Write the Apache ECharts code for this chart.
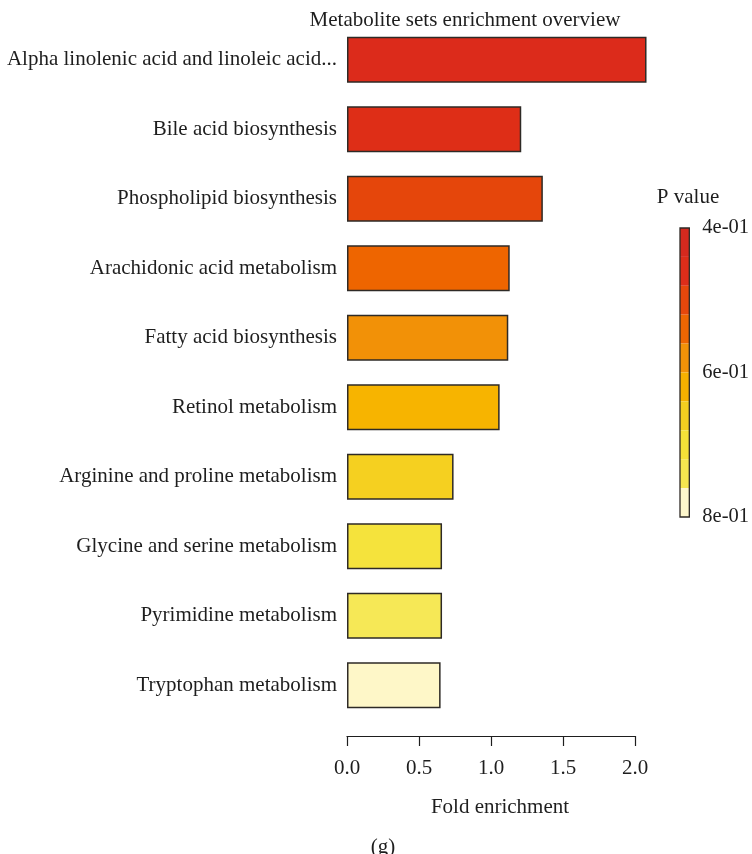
<!DOCTYPE html>
<html>
<head>
<meta charset="utf-8">
<script src="https://cdn.jsdelivr.net/npm/echarts@6/dist/echarts.min.js"></script>
<style>
  html, body { margin: 0; padding: 0; background: #fff; }
  #chart { width: 752px; height: 854px; }
</style>
</head>
<body>
<div id="chart"></div>
<script>
// Metabolite sets, top to bottom
const pathways = [
  'Alpha linolenic acid and linoleic acid...',
  'Bile acid biosynthesis',
  'Phospholipid biosynthesis',
  'Arachidonic acid metabolism',
  'Fatty acid biosynthesis',
  'Retinol metabolism',
  'Arginine and proline metabolism',
  'Glycine and serine metabolism',
  'Pyrimidine metabolism',
  'Tryptophan metabolism'
];
// Fold enrichment per set
const foldEnrichment = [2.08, 1.21, 1.36, 1.13, 1.12, 1.06, 0.74, 0.66, 0.66, 0.65];
// Fill per set, from lowest to highest P value
const barColors = [
  '#dc2b1b', '#de2e17', '#e5460b', '#ee6500', '#f29107',
  '#f7b400', '#f5d020', '#f5e33c', '#f6e856', '#fef7c8'
];
// Fold-enrichment axis ticks
const foldTicks = ['0.0', '0.5', '1.0', '1.5', '2.0'];

// P value colour scale: block edges and their fills
const pBreaks = [0.40, 0.44, 0.48, 0.52, 0.56, 0.60, 0.64, 0.68, 0.72, 0.76, 0.80];
const scaleColors = [
  '#d6291e', '#dd2d1a', '#e6470c', '#ee6602', '#f29208',
  '#f6b100', '#f4cf20', '#f4e238', '#f5e64f', '#fef7cc'
];
const scaleTickLabels = ['4e-01', '6e-01', '8e-01'];

const FONT = '"Liberation Serif", "DejaVu Serif", serif';
const INK = '#1e1e1e';
const FS = 21;

const scaleBlocks = scaleColors.map((c, i) => ({
  value: [pBreaks[i], pBreaks[i + 1]],
  itemStyle: { color: c }
}));

const chart = echarts.init(document.getElementById('chart'), null, { renderer: 'canvas' });

chart.setOption({
  backgroundColor: '#ffffff',
  animation: false,
  title: [
    {
      text: 'Metabolite sets enrichment overview',
      left: 465, top: 10, padding: 0, textAlign: 'center',
      textStyle: { fontFamily: FONT, fontSize: FS, fontWeight: 'normal', color: INK }
    },
    {
      text: 'P value',
      left: 688, top: 187, padding: 0, textAlign: 'center',
      textStyle: { fontFamily: FONT, fontSize: FS, fontWeight: 'normal', color: INK }
    },
    {
      text: '(g)',
      left: 383, top: 837, padding: 0, textAlign: 'center',
      textStyle: { fontFamily: FONT, fontSize: FS, fontWeight: 'normal', color: INK }
    }
  ],
  grid: [
    { left: 347, right: 117, top: 25, bottom: 134 },
    { left: 680, width: 17, top: 228, height: 289, show: true, z: 10,
      borderColor: '#2e2a26', borderWidth: 1.3, backgroundColor: 'transparent' }
  ],
  xAxis: [
    {
      gridIndex: 0,
      type: 'value',
      min: 0, max: 2, interval: 0.5,
      offset: 16,
      splitLine: { show: false },
      axisLine: { show: true, lineStyle: { color: INK, width: 1.2 } },
      axisTick: { show: true, length: 10, inside: false, lineStyle: { color: INK, width: 1.2 } },
      axisLabel: {
        margin: 22,
        fontFamily: FONT, fontSize: FS, color: INK,
        formatter: (v, i) => foldTicks[i]
      },
      name: 'Fold enrichment',
      nameLocation: 'middle',
      nameGap: 61,
      nameTextStyle: { fontFamily: FONT, fontSize: FS, color: INK, padding: [0, 0, 0, 18] }
    },
    {
      gridIndex: 1,
      type: 'value',
      min: 0, max: 1,
      show: false
    }
  ],
  yAxis: [
    {
      gridIndex: 0,
      type: 'category',
      data: pathways,
      inverse: true,
      axisLine: { show: false },
      axisTick: { show: false },
      splitLine: { show: false },
      axisLabel: { margin: 10, fontFamily: FONT, fontSize: FS, color: INK }
    },
    {
      gridIndex: 1,
      type: 'value',
      min: 0.4, max: 0.8, interval: 0.2,
      inverse: true,
      position: 'right',
      axisLine: { show: false },
      axisTick: { show: false },
      splitLine: { show: false },
      axisLabel: {
        margin: 13,
        fontFamily: FONT, fontSize: 20.5, color: INK,
        formatter: (v, i) => scaleTickLabels[i]
      }
    }
  ],
  series: [
    {
      type: 'bar',
      xAxisIndex: 0, yAxisIndex: 0,
      clip: false,
      barWidth: 46,
      data: foldEnrichment.map((v, i) => ({
        value: v,
        itemStyle: { color: barColors[i] }
      })),
      itemStyle: { borderColor: '#2e2a26', borderWidth: 1.5 }
    },
    {
      type: 'custom',
      xAxisIndex: 1, yAxisIndex: 1,
      clip: true,
      data: scaleBlocks,
      renderItem: (params, api) => {
        const a = api.coord([0, api.value(0)]);
        const b = api.coord([1, api.value(1)]);
        return {
          type: 'rect',
          shape: { x: a[0], y: a[1], width: b[0] - a[0], height: b[1] - a[1] },
          style: { fill: api.visual('color') }
        };
      }
    }
  ]
});
</script>
</body>
</html>
